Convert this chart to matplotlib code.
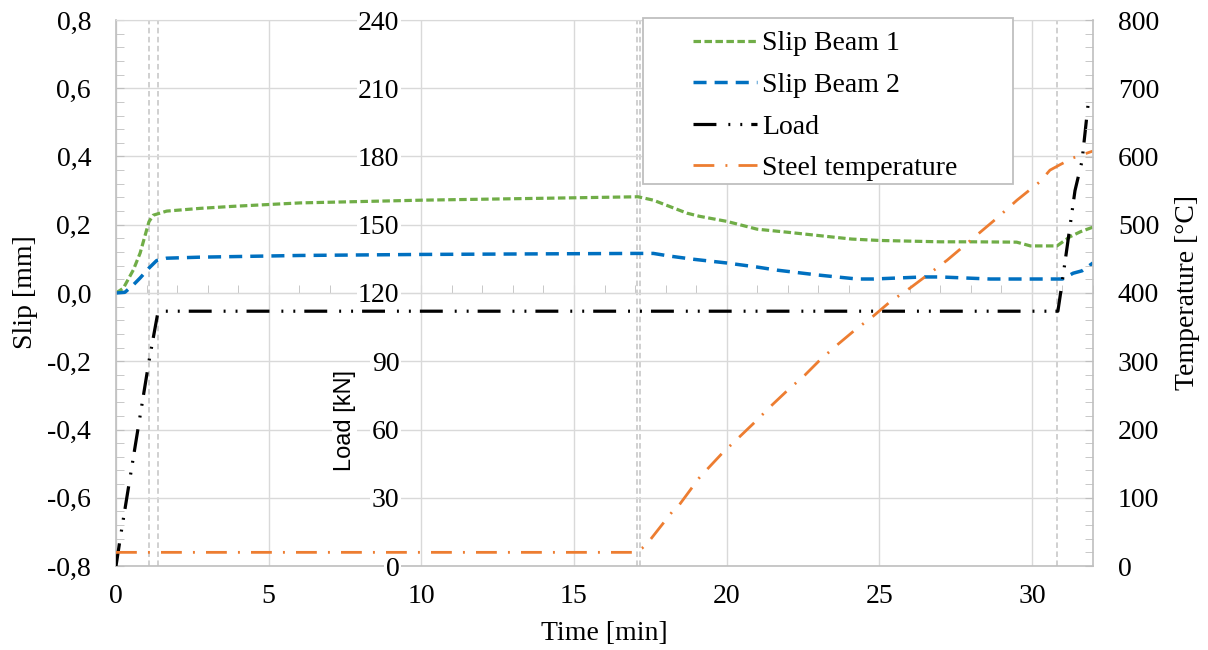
import numpy as np
import matplotlib
matplotlib.use("Agg")
import matplotlib.pyplot as plt
from matplotlib.patches import Rectangle
from matplotlib.ticker import MultipleLocator, FuncFormatter

plt.rcParams['font.family'] = ['Liberation Serif', 'DejaVu Serif']
plt.rcParams['lines.scale_dashes'] = False

# --- data ---
t_slip1 = [0, 0.24, 0.57, 0.79, 1.08, 1.22, 1.66, 2.75, 3.84, 6.03, 10, 15, 17.1,
           17.6, 18.7, 19.1, 20.0, 21.0, 22.0, 24.1, 25.0, 27.0, 28.1, 29.5, 29.95,
           30.82, 31.25, 31.6, 32.0]
slip1 = [0, 0.014, 0.068, 0.117, 0.209, 0.228, 0.24, 0.248, 0.254, 0.264, 0.272,
         0.279, 0.282, 0.272, 0.234, 0.225, 0.21, 0.187, 0.178, 0.158, 0.154, 0.15,
         0.15, 0.149, 0.138, 0.138, 0.165, 0.18, 0.193]

t_slip2 = [0, 0.29, 0.57, 0.79, 1.08, 1.33, 1.66, 2.75, 6.03, 10, 17.05, 17.6, 18.15,
           18.9, 20.0, 21.0, 21.65, 22.96, 24.27, 24.8, 26.43, 27.0, 28.63, 30.82,
           31.0, 31.35, 31.64, 32.0]
slip2 = [0, 0.002, 0.024, 0.044, 0.073, 0.095, 0.102, 0.105, 0.11, 0.113, 0.116,
         0.116, 0.108, 0.099, 0.088, 0.076, 0.067, 0.053, 0.041, 0.041, 0.047, 0.047,
         0.041, 0.041, 0.041, 0.058, 0.065, 0.088]

t_load = [0, 0.16, 1.08, 1.38, 30.85, 30.95, 31.15, 31.41, 31.64, 31.84]
load = [0, 14, 90, 112, 112, 121, 140, 165, 178, 203]

t_temp = [0, 17.0, 17.23, 17.49, 18.21, 18.44, 19.1, 19.39, 19.85, 20.44, 20.93,
          21.49, 22.01, 22.57, 23.06, 23.65, 24.21, 24.8, 25.35, 26.0, 27.22, 28.04,
          28.86, 29.51, 30.26, 30.59, 30.92, 31.35, 32.0]
temp = [20, 20, 26, 38, 79, 89, 129, 143, 165, 190, 211, 236, 258, 280, 302, 325,
        346, 366, 387, 407, 448, 479, 510, 536, 563, 580, 588, 598, 608]

t_marks = [1.08, 1.38, 17.05, 17.15, 30.82]

labels = ["Slip Beam 1", "Slip Beam 2", "Load", "Steel temperature"]

W, H = 1208, 650
L, R, B, T = 116, 1093, 566, 20
FS = 20
GRID = '#d9d9d9'
SPINE = '#bfbfbf'


def comma_fmt(v, pos):
    if abs(v) < 1e-9:
        v = 0.0
    return ("%.1f" % v).replace('.', ',')


fig = plt.figure(figsize=(W / 100, H / 100), dpi=100)
ax = fig.add_axes([L / W, 1 - B / H, (R - L) / W, (B - T) / H])
axL = ax.twinx()
axT = ax.twinx()

# slip axis (left)
ax.set_xlim(0, 32)
ax.set_ylim(-0.8, 0.8)
ax.xaxis.set_major_locator(MultipleLocator(5))
ax.yaxis.set_major_locator(MultipleLocator(0.2))
ax.yaxis.set_minor_locator(MultipleLocator(0.04))
ax.yaxis.set_major_formatter(FuncFormatter(comma_fmt))
ax.grid(True, which='major', color=GRID, lw=1.0)
ax.tick_params(axis='y', which='both', direction='in', length=6, color=SPINE,
               labelsize=FS, pad=18)
ax.tick_params(axis='x', which='both', length=0, labelsize=FS, pad=13)
for s in ['left', 'bottom']:
    ax.spines[s].set_color(SPINE)
    ax.spines[s].set_linewidth(1.2)
ax.spines['top'].set_color(GRID)
ax.spines['right'].set_visible(False)

# small time ticks along the zero-slip line
sec = ax.secondary_xaxis(0.5)
sec.xaxis.set_major_locator(MultipleLocator(5))
sec.xaxis.set_minor_locator(MultipleLocator(1))
sec.tick_params(which='both', direction='out', length=6, color=SPINE,
                labeltop=False, labelbottom=False)
for s in sec.spines.values():
    s.set_color(GRID)

for t in t_marks:
    ax.axvline(t, color='#c8c8c8', lw=1.2, ls=(0, (4, 2.5)), zorder=1.5)

l1, = ax.plot(t_slip1, slip1, color='#70AD47', lw=2.3, ls=(0, (5.4, 2.5)))
l2, = ax.plot(t_slip2, slip2, color='#0070C0', lw=2.5, ls=(0, (9.4, 5.8)))

# load axis (floating inside the plot)
axL.set_ylim(0, 240)
axL.set_yticks(np.arange(0, 241, 30))
axL.yaxis.tick_left()
axL.spines['left'].set_position(('axes', 0.293))
for s in axL.spines.values():
    s.set_visible(False)
axL.tick_params(axis='y', length=0, labelsize=FS, pad=2)
for tk in axL.yaxis.get_major_ticks():
    tk.label1.set_bbox(dict(facecolor='white', edgecolor='none', pad=1))
axL.text(0.234, 0.267, 'Load [kN]', transform=axL.transAxes, rotation=90,
         ha='center', va='center', fontsize=17,
         family=['Liberation Sans', 'DejaVu Sans'],
         bbox=dict(facecolor='white', edgecolor='none', pad=1))
l3, = axL.plot(t_load, load, color='black', lw=2.3,
               ls=(0, (16.5, 8.6, 1.4, 7.2, 1.4, 6.5)))

# temperature axis (right)
axT.set_ylim(0, 800)
axT.yaxis.set_major_locator(MultipleLocator(100))
axT.yaxis.set_minor_locator(MultipleLocator(20))
axT.tick_params(axis='y', which='both', direction='in', length=6, color=SPINE,
                labelsize=FS, pad=18)
for s in ['left', 'top', 'bottom']:
    axT.spines[s].set_visible(False)
axT.spines['right'].set_color(SPINE)
axT.spines['right'].set_linewidth(1.2)
l4, = axT.plot(t_temp, temp, color='#ED7D31', lw=2.0, ls=(0, (15, 8, 1.4, 8)))

# axis titles
fig.text(25 / W, 1 - 292 / H, 'Slip [mm]', rotation=90, ha='center', va='center',
         fontsize=FS)
fig.text(1188 / W, 1 - 292 / H, 'Temperature [°C]', rotation=90, ha='center',
         va='center', fontsize=FS)
fig.text(604 / W, 1 - 633 / H, 'Time [min]', ha='center', va='center', fontsize=FS)

# legend with a plain box
fig.add_artist(Rectangle((643 / W, 1 - 184 / H), 370 / W, 166 / H,
                         transform=fig.transFigure, facecolor='white',
                         edgecolor=SPINE, lw=1.3, zorder=3))
fig.legend([l1, l2, l3, l4], labels, loc='upper left',
           bbox_to_anchor=(693 / W, 1 - 31 / H), frameon=False, fontsize=FS,
           handlelength=2.3, handletextpad=0.2, labelspacing=0.58,
           borderpad=0, borderaxespad=0)

fig.savefig('out.png', dpi=100)
